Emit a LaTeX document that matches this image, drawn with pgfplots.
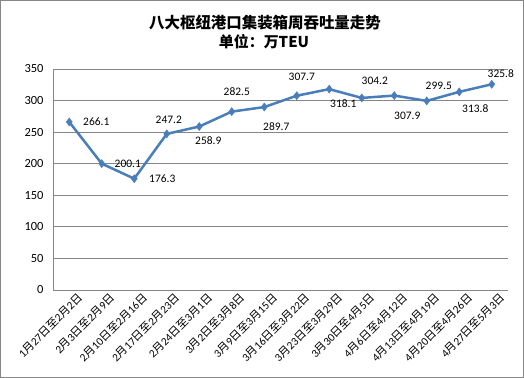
\documentclass[border=0pt]{standalone}
\usepackage{fontspec}
\usepackage{pgfplots}
\usepackage{pgfplotstable}
\pgfplotsset{compat=1.18}
\setmainfont{Carlito}
\newfontfamily\cjk{Noto Sans CJK SC}
\definecolor{lineblue}{RGB}{74,126,187}
\definecolor{gridgray}{RGB}{134,134,134}
\newcommand\lbl[4]{#1{\cjk 月}#2{\cjk 日至}#3{\cjk 月}#4{\cjk 日}}
\pgfplotstableread{
x y dx dy
0 266.1 27 0
1 200.1 26 0
2 176.3 28 0
3 247.2 2 14
4 258.9 9 -14.5
5 282.5 5 20
6 289.7 12 -20
7 307.7 5 19
8 318.1 14 -14
9 304.2 13 17
10 307.9 13 -20
11 299.5 12 15
12 313.8 16 -17
13 325.8 9 11
}\datatable
\begin{document}
\begin{tikzpicture}
\useasboundingbox (0,0) rectangle (524bp,378bp);
\draw[gridgray, line width=0.8bp] (0.5bp,0.5bp) rectangle (523.5bp,377.5bp);
\node[font=\cjk\bfseries\fontsize{15.5}{16}\selectfont] at (265bp,355bp) {八大枢纽港口集装箱周吞吐量走势};
\node[font=\cjk\bfseries\fontsize{15}{16}\selectfont] at (264bp,336bp) {单位：万TEU};
\begin{axis}[
  scale only axis,
  width=455bp, height=221bp,
  at={(53bp,88bp)}, anchor=south west,
  xmin=-0.5, xmax=13.5,
  ymin=0, ymax=350,
  ytick={0,50,...,350},
  xtick={0,...,13},
  xticklabels={{\lbl{1}{27}{2}{2}},{\lbl{2}{3}{2}{9}},{\lbl{2}{10}{2}{16}},{\lbl{2}{17}{2}{23}},{\lbl{2}{24}{3}{1}},{\lbl{3}{2}{3}{8}},{\lbl{3}{9}{3}{15}},{\lbl{3}{16}{3}{22}},{\lbl{3}{23}{3}{29}},{\lbl{3}{30}{4}{5}},{\lbl{4}{6}{4}{12}},{\lbl{4}{13}{4}{19}},{\lbl{4}{20}{4}{26}},{\lbl{4}{27}{5}{3}}},
  axis x line*=bottom, axis y line*=left,
  axis line style={gridgray, line width=0.8bp, -},
  ymajorgrids, grid style={gridgray, line width=0.8bp},
  major tick length=0pt,
  yticklabel style={font=\fontsize{12.5}{13}\selectfont, xshift=-6bp},
  xticklabel style={font=\fontsize{11.3}{12}\selectfont, rotate=45, anchor=east, inner sep=0pt, xshift=4bp, yshift=-12bp},
  /pgf/number format/assume math mode=true,
  clip=false,
]
\addplot[lineblue, line width=2.5bp, mark=diamond*, mark size=4bp, mark options={fill=lineblue, line width=0.5bp},
  nodes near coords, point meta=explicit,
  visualization depends on={\thisrow{dx}\as\dx},
  visualization depends on={\thisrow{dy}\as\dy},
  every node near coord/.append style={anchor=center, xshift=\dx bp, yshift=\dy bp, font=\fontsize{11.5}{12}\selectfont, text=black, /pgf/number format/.cd, fixed, fixed zerofill, precision=1, assume math mode=true},
] table[x=x, y=y, meta=y] {\datatable};
\end{axis}
\end{tikzpicture}
\end{document}
